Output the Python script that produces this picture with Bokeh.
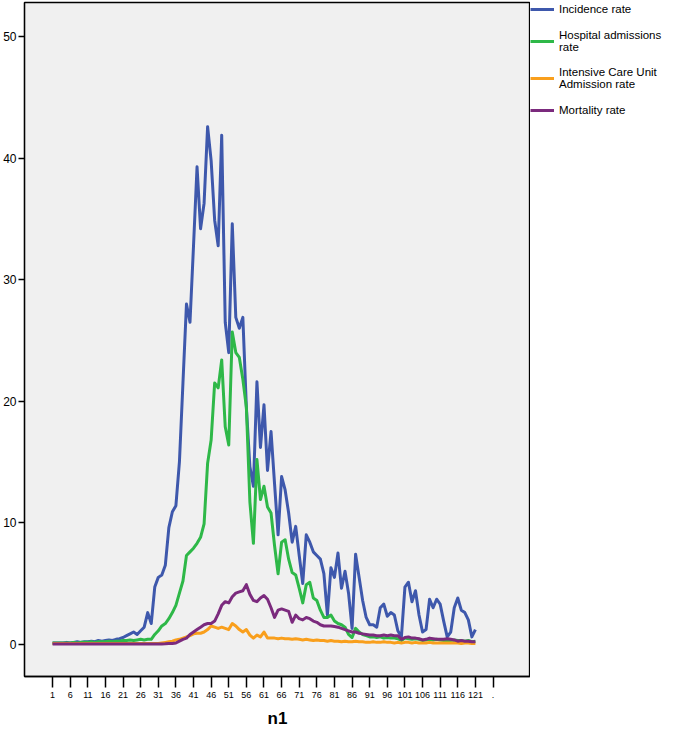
from bokeh.plotting import figure
from bokeh.layouts import row
from bokeh.models import FixedTicker, Legend, LegendItem, Range1d
from bokeh.embed import file_html
from bokeh.resources import INLINE

n = list(range(1, 122))

incidence = [
    0.1, 0.1, 0.1, 0.1, 0.15, 0.1, 0.15, 0.2, 0.15, 0.2,
    0.2, 0.25, 0.2, 0.3, 0.25, 0.3, 0.35, 0.3, 0.4, 0.45,
    0.55, 0.7, 0.85, 1.0, 0.8, 1.1, 1.4, 2.6, 1.7, 4.7,
    5.5, 5.7, 6.5, 9.6, 10.9, 11.4, 15.0, 21.5, 28.0, 26.5,
    32.8, 39.3, 34.2, 36.3, 42.6, 39.8, 34.9, 32.8, 41.9, 26.5,
    24.0, 34.6, 26.9, 26.0, 26.9, 19.5, 14.6, 13.0, 21.6, 16.2,
    19.7, 14.3, 17.5, 13.2, 9.0, 13.8, 12.7, 10.8, 8.4, 9.7,
    7.3, 5.0, 9.0, 8.4, 7.6, 7.3, 7.0, 5.8, 2.4, 6.3,
    5.5, 7.5, 4.6, 6.0, 4.2, 1.3, 7.4, 5.5, 3.6, 2.2,
    1.6, 1.6, 1.4, 3.0, 3.3, 2.3, 2.6, 2.4, 1.1, 0.6,
    4.7, 5.1, 3.5, 4.4, 2.4, 1.0, 1.2, 3.7, 3.0, 3.7,
    3.3, 1.9, 0.6, 1.0, 3.0, 3.8, 2.8, 2.6, 2.0, 0.6,
    1.2,
]

hospital = [
    0.1, 0.1, 0.1, 0.1, 0.1, 0.1, 0.15, 0.1, 0.15, 0.15,
    0.15, 0.2, 0.15, 0.2, 0.2, 0.2, 0.25, 0.2, 0.25, 0.25,
    0.3, 0.3, 0.35, 0.3, 0.35, 0.4, 0.35, 0.4, 0.4, 0.8,
    1.1, 1.5, 1.7, 2.1, 2.6, 3.2, 4.2, 5.2, 7.3, 7.6,
    7.9, 8.3, 8.8, 9.9, 14.9, 16.8, 21.5, 21.1, 23.4, 17.9,
    16.4, 25.7, 24.0, 23.6, 21.8, 19.5, 11.7, 8.3, 15.2, 11.9,
    13.0, 11.3, 10.8, 8.1, 5.8, 8.4, 8.6, 7.0, 5.9, 5.7,
    4.6, 3.4, 4.9, 5.1, 3.8, 3.6, 2.8, 2.2, 2.2, 2.4,
    1.9, 1.7, 1.6, 1.4, 0.8, 0.55, 1.3, 1.0, 0.8, 0.7,
    0.6, 0.6, 0.55, 0.6, 0.5, 0.55, 0.5, 0.5, 0.45, 0.3,
    0.5, 0.45, 0.4, 0.45, 0.4, 0.3, 0.35, 0.4, 0.35, 0.4,
    0.35, 0.3, 0.25, 0.3, 0.35, 0.3, 0.3, 0.25, 0.3, 0.2,
    0.25,
]

icu = [
    0.05, 0.05, 0.05, 0.05, 0.05, 0.05, 0.05, 0.05, 0.05, 0.05,
    0.05, 0.05, 0.05, 0.05, 0.05, 0.05, 0.05, 0.05, 0.05, 0.05,
    0.05, 0.05, 0.05, 0.05, 0.05, 0.05, 0.05, 0.05, 0.05, 0.05,
    0.05, 0.1, 0.15, 0.2, 0.25, 0.35, 0.4, 0.5, 0.6, 0.7,
    0.85, 0.9, 0.9, 1.0, 1.2, 1.5, 1.4, 1.3, 1.4, 1.3,
    1.2, 1.7, 1.5, 1.2, 1.0, 1.2, 0.75, 0.5, 0.75, 0.6,
    1.0, 0.5, 0.5, 0.5, 0.45, 0.5, 0.45, 0.45, 0.4, 0.45,
    0.4, 0.35, 0.4, 0.35, 0.3, 0.35, 0.3, 0.3, 0.25, 0.3,
    0.25, 0.25, 0.2, 0.25, 0.2, 0.2, 0.25, 0.2, 0.2, 0.15,
    0.15, 0.2, 0.15, 0.15, 0.2, 0.15, 0.15, 0.1, 0.15, 0.1,
    0.15, 0.15, 0.1, 0.15, 0.1, 0.1, 0.1, 0.15, 0.1, 0.1,
    0.1, 0.1, 0.1, 0.1, 0.1, 0.1, 0.05, 0.1, 0.1, 0.05,
    0.05,
]

mortality = [
    0.02, 0.02, 0.02, 0.02, 0.02, 0.02, 0.02, 0.02, 0.02, 0.02,
    0.02, 0.02, 0.02, 0.02, 0.02, 0.02, 0.02, 0.02, 0.02, 0.02,
    0.02, 0.02, 0.02, 0.02, 0.02, 0.02, 0.02, 0.02, 0.02, 0.02,
    0.02, 0.02, 0.03, 0.05, 0.05, 0.1, 0.25, 0.4, 0.5, 0.8,
    1.0, 1.2, 1.4, 1.6, 1.7, 1.7, 1.9, 2.5, 3.2, 3.5,
    3.4, 3.9, 4.2, 4.3, 4.4, 4.9, 4.1, 3.6, 3.5, 3.8,
    4.0, 3.7, 3.0, 2.2, 2.8, 2.9, 2.8, 2.7, 1.8, 2.4,
    2.1, 2.0, 2.2, 2.1, 1.9, 1.8, 1.6, 1.5, 1.5, 1.5,
    1.45, 1.4, 1.3, 1.2, 1.1, 1.0, 1.0, 0.9, 0.85, 0.8,
    0.75, 0.75, 0.7, 0.7, 0.75, 0.7, 0.75, 0.7, 0.7, 0.4,
    0.55, 0.6, 0.5, 0.5, 0.45, 0.35, 0.4, 0.5, 0.45, 0.4,
    0.4, 0.4, 0.45, 0.4, 0.35, 0.25, 0.3, 0.25, 0.25, 0.2,
    0.2,
]

series_labels = ["Incidence rate", "Hospital admissions\nrate",
                 "Intensive Care Unit\nAdmission rate", "Mortality rate"]
series_colors = ["#3e58ac", "#2eb848", "#f99f1c", "#7b2a7d"]
series_values = [incidence, hospital, icu, mortality]

x_ticks = list(range(1, 127, 5))
x_label_overrides = {126: "."}
y_ticks = [0, 10, 20, 30, 40, 50]

FONT = "Liberation Sans"
LINE_W = 3
TOTAL_H = 730
MAIN_W = 530
LEG_W = 139

p = figure(width=MAIN_W, height=TOTAL_H, output_backend="svg",
           toolbar_location=None,
           x_range=Range1d(-6.97, 136.64), y_range=Range1d(-2.66, 52.82),
           background_fill_color="#f0f0f0", border_fill_color="white",
           min_border_top=2, min_border_left=23, min_border_right=0,
           min_border_bottom=0)
p.outline_line_color = "black"
p.outline_line_width = 1.3
p.grid.visible = False

for vals, col in zip(series_values, series_colors):
    p.line(n, vals, line_color=col, line_width=LINE_W, line_join="round")

xa = p.xaxis[0]
xa.ticker = FixedTicker(ticks=x_ticks)
xa.major_label_overrides = x_label_overrides
xa.major_tick_out = 11
xa.major_tick_in = 0
xa.minor_tick_out = 0
xa.minor_tick_in = 0
xa.major_tick_line_width = 1.5
xa.major_label_standoff = 4
xa.major_label_text_font = FONT
xa.major_label_text_font_size = "9px"
xa.major_label_text_color = "black"
xa.axis_line_color = "black"
xa.axis_line_width = 1.3
xa.axis_label = "n1"
xa.axis_label_text_font = FONT
xa.axis_label_text_font_style = "bold"
xa.axis_label_text_font_size = "17px"
xa.axis_label_text_color = "black"
xa.axis_label_standoff = 8

ya = p.yaxis[0]
ya.ticker = FixedTicker(ticks=y_ticks)
ya.major_tick_out = 6
ya.major_tick_in = 0
ya.minor_tick_out = 0
ya.minor_tick_in = 0
ya.major_tick_line_width = 1.5
ya.major_label_standoff = 2
ya.major_label_text_font = FONT
ya.major_label_text_font_size = "12px"
ya.major_label_text_color = "black"
ya.axis_line_color = "black"
ya.axis_line_width = 1.3

# legend panel: its own figure to the right of the plot; the series are
# drawn there too but with ranges that keep them out of view
lf = figure(width=LEG_W, height=TOTAL_H, output_backend="svg",
            toolbar_location=None,
            x_range=Range1d(-1000, -999), y_range=Range1d(-1000, -999),
            min_border=0, min_border_top=2, outline_line_color=None,
            background_fill_color="white", border_fill_color="white")
lf.axis.visible = False
lf.grid.visible = False
items = []
for lab, vals, col in zip(series_labels, series_values, series_colors):
    r = lf.line(n, vals, line_color=col, line_width=LINE_W)
    items.append(LegendItem(label=lab, renderers=[r]))
legend = Legend(items=items, location="top_left", orientation="vertical",
                border_line_color=None, background_fill_alpha=0,
                margin=0, padding=11, spacing=13,
                glyph_width=24, glyph_height=14, label_height=14,
                label_standoff=5, label_text_font=FONT,
                label_text_font_size="11.5px", label_text_line_height=1.35,
                label_text_color="black")
lf.add_layout(legend, "center")

layout = row(p, lf, spacing=0)
open("out.html", "w").write(file_html(layout, INLINE))
